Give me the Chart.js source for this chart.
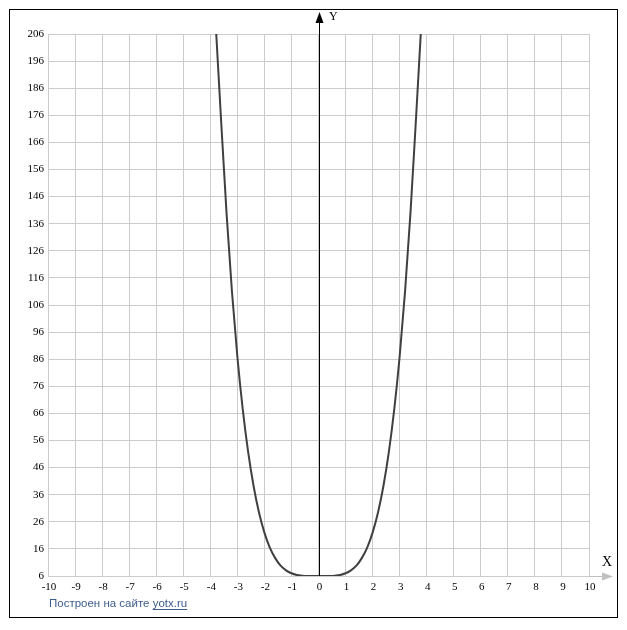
<!DOCTYPE html>
<html lang="ru">
<head>
  <meta charset="utf-8" />
  <title>y graph</title>
  <script src="https://cdn.jsdelivr.net/npm/chart.js@4.4.1/dist/chart.umd.min.js"></script>
  <style>
    html, body { margin: 0; padding: 0; background: #fff; }
    canvas { display: block; }
  </style>
</head>
<body>
  <canvas id="graph" width="627" height="630"></canvas>
  <script>
    // points (estimated), left branch to right branch
    const curveX = [-3.78, -3.6, -3.4, -3.2, -3.0, -2.8, -2.6, -2.4, -2.2, -2.0, -1.8, -1.6, -1.4, -1.2, -1.0, -0.8, -0.6, -0.4, -0.2, 0,
                    0.2, 0.4, 0.6, 0.8, 1.0, 1.2, 1.4, 1.6, 1.8, 2.0, 2.2, 2.4, 2.6, 2.8, 3.0, 3.2, 3.4, 3.6, 3.78];
    const curveY = [206, 174, 140, 111, 87, 67.5, 51.7, 39.2, 29.4, 22, 16.5, 12.6, 9.8, 8.1, 7, 6.4, 6.13, 6.03, 6, 6,
                    6, 6.03, 6.13, 6.4, 7, 8.1, 9.8, 12.6, 16.5, 22, 29.4, 39.2, 51.7, 67.5, 87, 111, 140, 174, 206];
    const xTicks = [-10, -9, -8, -7, -6, -5, -4, -3, -2, -1, 0, 1, 2, 3, 4, 5, 6, 7, 8, 9, 10];
    const yTicks = [6, 16, 26, 36, 46, 56, 66, 76, 86, 96, 106, 116, 126, 136, 146, 156, 166, 176, 186, 196, 206];

    const points = curveX.map((x, i) => ({ x: x, y: curveY[i] }));
    const labelFont = '11px "Liberation Serif", "DejaVu Serif", serif';

    function arrowHead(ctx, x, y, dir, color) {
      ctx.fillStyle = color;
      ctx.beginPath();
      if (dir === 'up') {
        ctx.moveTo(x, y); ctx.lineTo(x - 4, y + 11); ctx.lineTo(x + 4, y + 11);
      } else {
        ctx.moveTo(x, y); ctx.lineTo(x - 11, y - 4); ctx.lineTo(x - 11, y + 4);
      }
      ctx.closePath();
      ctx.fill();
    }

    // frame, axes with arrows, tick labels and caption
    const decor = {
      id: 'decor',
      beforeDraw(chart) {
        const ctx = chart.ctx;
        ctx.save();
        ctx.fillStyle = '#fff';
        ctx.fillRect(0, 0, chart.width, chart.height);
        ctx.strokeStyle = '#000';
        ctx.lineWidth = 1;
        ctx.strokeRect(9.5, 9.5, 608, 608);
        ctx.restore();
      },
      afterDraw(chart) {
        const ctx = chart.ctx;
        const xs = chart.scales.x, ys = chart.scales.y;
        const area = chart.chartArea;
        ctx.save();

        // x axis (grey) with arrow
        const y0 = Math.round(ys.getPixelForValue(6)) + 0.5;
        ctx.strokeStyle = '#c0c0c0';
        ctx.lineWidth = 1;
        ctx.beginPath();
        ctx.moveTo(area.right, y0);
        ctx.lineTo(608, y0);
        ctx.stroke();
        arrowHead(ctx, 613, y0, 'right', '#c0c0c0');

        // y axis (black) with arrow
        const x0 = Math.round(xs.getPixelForValue(0)) + 0.5;
        ctx.strokeStyle = '#000';
        ctx.beginPath();
        ctx.moveTo(x0, area.bottom);
        ctx.lineTo(x0, 20);
        ctx.stroke();
        arrowHead(ctx, x0, 12, 'up', '#000');

        ctx.fillStyle = '#000';
        ctx.font = labelFont;
        ctx.textAlign = 'right';
        ctx.textBaseline = 'middle';
        yTicks.forEach(v => ctx.fillText(String(v), 44, ys.getPixelForValue(v)));
        ctx.textAlign = 'center';
        ctx.textBaseline = 'top';
        xTicks.forEach(v => ctx.fillText(String(v), xs.getPixelForValue(v) + 1, area.bottom + 6));

        ctx.font = '14px "Liberation Serif", "DejaVu Serif", serif';
        ctx.textAlign = 'left';
        ctx.textBaseline = 'middle';
        ctx.fillText('X', 602, 562);
        ctx.font = '12px "Liberation Serif", "DejaVu Serif", serif';
        ctx.fillText('Y', 329, 17);

        ctx.font = '11.5px "Liberation Sans", Arial, sans-serif';
        ctx.fillStyle = '#3d5c8c';
        ctx.textBaseline = 'alphabetic';
        const caption = 'Построен на сайте ';
        ctx.fillText(caption, 49, 607);
        const cw = ctx.measureText(caption).width;
        ctx.fillText('yotx.ru', 49 + cw, 607);
        const lw = ctx.measureText('yotx.ru').width;
        ctx.strokeStyle = '#3d5c8c';
        ctx.beginPath();
        ctx.moveTo(49 + cw, 609.5);
        ctx.lineTo(49 + cw + lw, 609.5);
        ctx.stroke();
        ctx.restore();
      }
    };

    new Chart(document.getElementById('graph'), {
      type: 'scatter',
      data: {
        datasets: [{
          data: points,
          showLine: true,
          borderColor: '#404040',
          borderWidth: 2,
          pointRadius: 0,
          cubicInterpolationMode: 'monotone',
          fill: false
        }]
      },
      options: {
        responsive: false,
        animation: false,
        devicePixelRatio: 1,
        layout: { padding: { left: 48, top: 34, right: 38, bottom: 54 } },
        plugins: { legend: { display: false }, tooltip: { enabled: false } },
        scales: {
          x: {
            type: 'linear', min: -10, max: 10,
            afterBuildTicks: s => { s.ticks = xTicks.map(v => ({ value: v })); },
            ticks: { display: false },
            grid: { color: '#cccccc', lineWidth: 1, drawTicks: false },
            border: { display: false }
          },
          y: {
            type: 'linear', min: 6, max: 206,
            afterBuildTicks: s => { s.ticks = yTicks.map(v => ({ value: v })); },
            ticks: { display: false },
            grid: { color: '#cccccc', lineWidth: 1, drawTicks: false },
            border: { display: false }
          }
        }
      },
      plugins: [decor]
    });
  </script>
</body>
</html>
